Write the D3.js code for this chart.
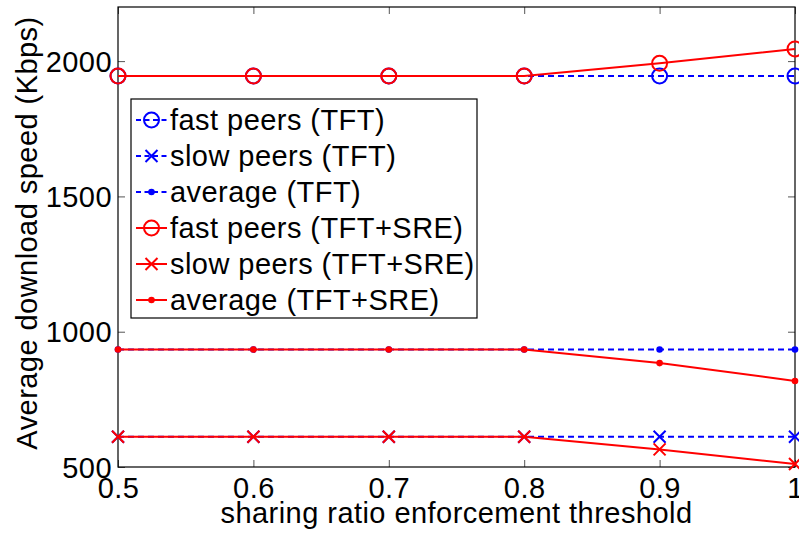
<!DOCTYPE html>
<html><head><meta charset="utf-8">
<script src="https://cdn.jsdelivr.net/npm/d3@7"></script>
<style>html,body{margin:0;padding:0;background:#fff;overflow:hidden}svg{display:block}text{font-family:"Liberation Sans",Arial,Helvetica,sans-serif;fill:#000}</style>
</head><body>
<script>
const thresholds = [0.5, 0.6, 0.7, 0.8, 0.9, 1.0];
const fastTFT = [1945, 1945, 1945, 1945, 1945, 1945];
const slowTFT = [612, 612, 612, 612, 612, 612];
const avgTFT = [934, 934, 934, 934, 934, 934];
const fastSRE = [1945, 1945, 1945, 1945, 1992, 2045];
const slowSRE = [612, 612, 612, 612, 565, 511];
const avgSRE = [934, 934, 934, 934, 884, 818];
const xTicks = [0.5, 0.6, 0.7, 0.8, 0.9, 1];
const yTicks = [500, 1000, 1500, 2000];
const seriesNames = ["fast peers (TFT)", "slow peers (TFT)", "average (TFT)", "fast peers (TFT+SRE)", "slow peers (TFT+SRE)", "average (TFT+SRE)"];

const W = 799, H = 535;
const L = 118, R = 795, T = 7, B = 467;
const FS = 29, LS = "0.45px";
const svg = d3.select("body").append("svg").attr("width", W).attr("height", H);
const x = d3.scaleLinear().domain([0.5, 1]).range([L, R]);
const y = d3.scaleLinear().domain([500, 2200]).range([B, T]);

const series = [
  {name: seriesNames[0], vals: fastTFT, color: "#0000ff", dash: "6,4", marker: "circle"},
  {name: seriesNames[1], vals: slowTFT, color: "#0000ff", dash: "6,4", marker: "x"},
  {name: seriesNames[2], vals: avgTFT, color: "#0000ff", dash: "6,4", marker: "dot"},
  {name: seriesNames[3], vals: fastSRE, color: "#ff0000", dash: null, marker: "circle"},
  {name: seriesNames[4], vals: slowSRE, color: "#ff0000", dash: null, marker: "x"},
  {name: seriesNames[5], vals: avgSRE, color: "#ff0000", dash: null, marker: "dot"}
];

// axes (inward ticks on all four sides)
const tk = 7;
const gx = svg.append("g").attr("transform", `translate(0,${B})`)
  .call(d3.axisBottom(x).tickValues(xTicks).tickSize(-tk).tickPadding(10).tickFormat(d => d === 1 ? "1" : d3.format(".1f")(d)));
const gxt = svg.append("g").attr("transform", `translate(0,${T})`)
  .call(d3.axisTop(x).tickValues(xTicks).tickSize(-tk).tickFormat(""));
const gy = svg.append("g").attr("transform", `translate(${L},0)`)
  .call(d3.axisLeft(y).tickValues(yTicks).tickSize(-tk).tickPadding(6).tickFormat(d3.format("d")));
const gyr = svg.append("g").attr("transform", `translate(${R},0)`)
  .call(d3.axisRight(y).tickValues(yTicks).tickSize(-tk).tickFormat(""));
[gx, gxt, gy, gyr].forEach(g => {
  g.select(".domain").remove();
  g.selectAll(".tick line").attr("stroke", "#555").attr("stroke-width", 1);
  g.selectAll(".tick text").attr("font-size", FS).attr("fill", "#000").style("letter-spacing", LS)
    .style("font-family", '"Liberation Sans", Arial, sans-serif');
});
gx.selectAll(".tick text").attr("dy", "0.71em").attr("y", 10);
gy.selectAll(".tick text").attr("dy", "0.35em");

// box
svg.append("rect").attr("x", L).attr("y", T).attr("width", R - L).attr("height", B - T)
  .attr("fill", "none").attr("stroke", "#000").attr("stroke-width", 1.2);

const line = d3.line().x((d, i) => x(thresholds[i])).y(d => y(d));

function drawMarker(g, type, cx, cy, color) {
  if (type === "circle") {
    g.append("circle").attr("cx", cx).attr("cy", cy).attr("r", 7.5)
      .attr("fill", "none").attr("stroke", color).attr("stroke-width", 2);
  } else if (type === "x") {
    const s = 6;
    g.append("path").attr("d", `M${cx - s},${cy - s}L${cx + s},${cy + s}M${cx - s},${cy + s}L${cx + s},${cy - s}`)
      .attr("stroke", color).attr("stroke-width", 2).attr("fill", "none");
  } else {
    g.append("circle").attr("cx", cx).attr("cy", cy).attr("r", 3.3).attr("fill", color);
  }
}

const plot = svg.append("g");
series.forEach(s => {
  const g = plot.append("g");
  g.append("path").datum(s.vals).attr("d", line).attr("fill", "none")
    .attr("stroke", s.color).attr("stroke-width", 2)
    .attr("stroke-dasharray", s.dash);
  s.vals.forEach((v, i) => drawMarker(g, s.marker, x(thresholds[i]), y(v), s.color));
});

// legend
const lg = svg.append("g");
const lx = 131, ly = 99, lw = 346, lh = 219;
lg.append("rect").attr("x", lx).attr("y", ly).attr("width", lw).attr("height", lh)
  .attr("fill", "#fff").attr("stroke", "#000").attr("stroke-width", 1.2);
series.forEach((s, i) => {
  const cy = 120 + i * 36;
  lg.append("line").attr("x1", 136).attr("x2", 167).attr("y1", cy).attr("y2", cy)
    .attr("stroke", s.color).attr("stroke-width", 2).attr("stroke-dasharray", s.dash ? "5,3.5" : null);
  drawMarker(lg, s.marker, 151.5, cy, s.color);
  lg.append("text").attr("x", 170).attr("y", cy).attr("dy", "0.35em").attr("font-size", FS)
    .style("letter-spacing", LS).text(s.name);
});

// axis labels
svg.append("text").attr("x", (L + R) / 2).attr("y", 523).attr("text-anchor", "middle")
  .attr("font-size", FS).style("letter-spacing", LS).text("sharing ratio enforcement threshold");
svg.append("text").attr("transform", `translate(37,${(T + B) / 2 - 4}) rotate(-90)`).attr("text-anchor", "middle")
  .attr("font-size", FS).style("letter-spacing", LS).text("Average download speed (Kbps)");
</script>
</body></html>
